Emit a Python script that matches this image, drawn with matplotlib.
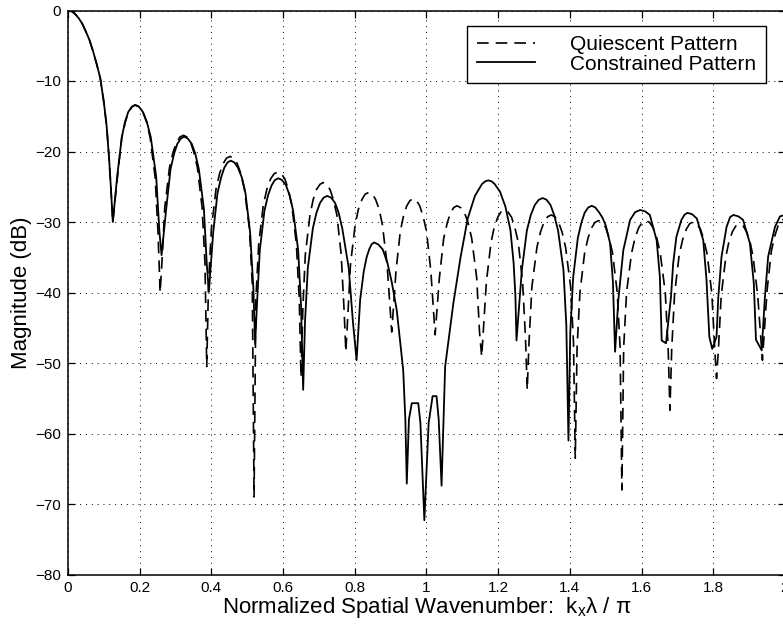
import matplotlib
matplotlib.use("Agg")
import matplotlib.pyplot as plt

plt.rcParams['font.family'] = ['Liberation Sans', 'DejaVu Sans']
plt.rcParams['mathtext.default'] = 'regular'

# Main lobe, identical for both patterns
main_x = [0.000, 0.010, 0.020, 0.030, 0.040, 0.050, 0.060, 0.070, 0.080,
          0.090, 0.100, 0.108, 0.115, 0.120]
main_db = [0.0, -0.1, -0.5, -1.1, -1.9, -3.0, -4.2, -5.8, -7.6,
           -9.6, -13.0, -16.5, -21.3, -25.5]

# Quiescent pattern (dashed)
quiescent_x = main_x + [
    0.125, 0.138, 0.150, 0.160, 0.169, 0.179, 0.188, 0.198, 0.209, 0.219, 0.229, 0.243, 0.251,
    0.257, 0.262, 0.270, 0.283, 0.293, 0.303, 0.312, 0.322, 0.332, 0.342, 0.351, 0.361, 0.374, 0.382,
    0.387, 0.392, 0.400, 0.413, 0.423, 0.433, 0.442, 0.452, 0.462, 0.472, 0.482, 0.492, 0.506, 0.514,
    0.519, 0.524, 0.532, 0.545, 0.555, 0.565, 0.575, 0.585, 0.595, 0.605, 0.614, 0.624, 0.637, 0.645,
    0.650, 0.655, 0.662, 0.675, 0.684, 0.693, 0.703, 0.712, 0.721, 0.731, 0.740, 0.750, 0.762, 0.770,
    0.775, 0.780, 0.788, 0.801, 0.810, 0.820, 0.829, 0.839, 0.849, 0.858, 0.868, 0.877, 0.890,
    0.903, 0.915, 0.927, 0.936, 0.945, 0.954, 0.963, 0.972, 0.981, 0.990, 1.000, 1.012,
    1.024, 1.036, 1.048, 1.058, 1.067, 1.076, 1.085, 1.095, 1.106, 1.116, 1.126, 1.140, 1.148,
    1.154, 1.167, 1.180, 1.189, 1.199, 1.208, 1.218, 1.227, 1.237, 1.246, 1.256, 1.268, 1.276,
    1.281, 1.286, 1.294, 1.308, 1.318, 1.328, 1.338, 1.348, 1.358, 1.368, 1.378, 1.388, 1.402, 1.410,
    1.415, 1.420, 1.428, 1.441, 1.451, 1.461, 1.470, 1.480, 1.490, 1.500, 1.509, 1.519, 1.532, 1.540,
    1.545, 1.550, 1.558, 1.572, 1.582, 1.592, 1.602, 1.612, 1.622, 1.632, 1.642, 1.652, 1.666, 1.674,
    1.679, 1.684, 1.692, 1.705, 1.715, 1.725, 1.734, 1.744, 1.754, 1.764, 1.773, 1.783, 1.796, 1.804,
    1.809, 1.814, 1.822, 1.835, 1.844, 1.854, 1.863, 1.873, 1.883, 1.892, 1.902, 1.911, 1.924,
    1.937, 1.950, 1.962, 1.972, 1.981, 1.991, 2.000,
]
quiescent_db = main_db + [
    -30.0, -23.6, -18.0, -15.8, -14.4, -13.65, -13.4, -13.65, -14.4, -15.8, -18.0, -23.6, -31.4,
    -40.0, -35.7, -27.9, -22.3, -20.1, -18.7, -17.95, -17.7, -17.95, -18.7, -20.1, -22.3, -27.9, -35.7,
    -50.5, -38.7, -30.9, -25.3, -23.1, -21.7, -20.95, -20.7, -20.95, -21.7, -23.1, -25.3, -30.9, -38.7,
    -69.0, -40.9, -33.1, -27.5, -25.3, -23.9, -23.15, -22.9, -23.15, -23.9, -25.3, -27.5, -33.1, -40.9,
    -52.0, -42.4, -34.6, -29.0, -26.8, -25.4, -24.65, -24.4, -24.65, -25.4, -26.8, -29.0, -34.6, -42.4,
    -48.4, -43.8, -36.0, -30.4, -28.2, -26.8, -26.05, -25.8, -26.05, -26.8, -28.2, -30.4, -36.0,
    -45.6, -36.9, -31.3, -29.1, -27.7, -26.95, -26.7, -26.95, -27.7, -29.1, -31.3, -36.9,
    -46.0, -37.9, -32.3, -30.1, -28.7, -27.95, -27.7, -27.95, -28.7, -30.1, -32.3, -37.9, -45.7,
    -49.1, -38.5, -32.9, -30.7, -29.3, -28.55, -28.3, -28.55, -29.3, -30.7, -32.9, -38.5, -46.3,
    -53.8, -47.0, -39.2, -33.6, -31.4, -30.0, -29.25, -29.0, -29.25, -30.0, -31.4, -33.6, -39.2, -47.0,
    -63.5, -47.8, -40.0, -34.4, -32.2, -30.8, -30.05, -29.8, -30.05, -30.8, -32.2, -34.4, -40.0, -47.8,
    -68.0, -47.8, -40.0, -34.4, -32.2, -30.8, -30.05, -29.8, -30.05, -30.8, -32.2, -34.4, -40.0, -47.8,
    -56.7, -48.0, -40.2, -34.6, -32.4, -31.0, -30.25, -30.0, -30.25, -31.0, -32.4, -34.6, -40.2, -48.0,
    -52.2, -48.3, -40.5, -34.9, -32.7, -31.3, -30.55, -30.3, -30.55, -31.3, -32.7, -34.9, -40.5,
    -49.6, -39.7, -34.1, -31.9, -30.5, -29.75, -29.5,
]

# Constrained pattern (solid)
constrained_x = main_x + [
    0.125, 0.137, 0.150, 0.159, 0.168, 0.178, 0.187, 0.198, 0.209, 0.220, 0.231, 0.246, 0.255,
    0.261, 0.274, 0.286, 0.296, 0.305, 0.315, 0.324, 0.334, 0.345, 0.355, 0.365, 0.379, 0.387,
    0.393, 0.405, 0.417, 0.427, 0.436, 0.445, 0.454, 0.464, 0.474, 0.485, 0.495, 0.508, 0.517,
    0.522, 0.527, 0.535, 0.548, 0.558, 0.568, 0.577, 0.587, 0.597, 0.608, 0.618, 0.628, 0.642, 0.650,
    0.656, 0.661, 0.669, 0.683, 0.693, 0.703, 0.713, 0.723, 0.734, 0.745, 0.755, 0.765, 0.783, 0.795,
    0.805, 0.815, 0.825, 0.833, 0.840, 0.847, 0.854, 0.866, 0.878, 0.891, 0.903, 0.917, 0.935, 0.941,
    0.945, 0.951, 0.959, 0.977, 0.983, 0.994, 1.006, 1.017, 1.028, 1.034,
    1.042, 1.052, 1.075, 1.095, 1.115, 1.135, 1.155, 1.165, 1.173, 1.182, 1.190, 1.205, 1.220,
    1.234, 1.243, 1.248,
    1.251, 1.266, 1.280, 1.291, 1.302, 1.313, 1.324, 1.335, 1.346, 1.356, 1.367, 1.382, 1.390,
    1.396, 1.401, 1.409, 1.422, 1.432, 1.441, 1.451, 1.461, 1.471, 1.481, 1.491, 1.500, 1.512, 1.520,
    1.526, 1.535, 1.549, 1.568, 1.582, 1.596, 1.610, 1.623, 1.642, 1.651, 1.656,
    1.668, 1.682, 1.688, 1.697, 1.711, 1.720, 1.728, 1.741, 1.754, 1.772, 1.781, 1.789,
    1.797, 1.809, 1.814, 1.823, 1.837, 1.847, 1.856, 1.870, 1.883, 1.902, 1.913, 1.919,
    1.935, 1.944, 1.953, 1.972, 1.986, 2.000,
]
constrained_db = main_db + [
    -30.0, -23.6, -18.0, -15.8, -14.4, -13.65, -13.4, -13.65, -14.4, -15.8, -18.0, -23.6, -31.4,
    -34.7, -28.1, -22.5, -20.3, -18.9, -18.15, -17.9, -18.15, -18.9, -20.3, -22.5, -28.1, -35.9,
    -39.9, -31.5, -25.9, -23.7, -22.3, -21.55, -21.3, -21.55, -22.3, -23.7, -25.9, -31.5, -39.3,
    -47.3, -41.8, -34.0, -28.4, -26.2, -24.8, -24.05, -23.8, -24.05, -24.8, -26.2, -28.4, -34.0, -41.8,
    -53.8, -44.3, -36.5, -30.9, -28.7, -27.3, -26.55, -26.3, -26.55, -27.3, -28.7, -30.9, -36.5, -44.3,
    -49.6, -41.0, -37.0, -35.0, -33.9, -33.15, -32.9, -33.2, -33.9, -35.8, -38.5, -42.5, -51.0, -58.0,
    -67.1, -58.0, -55.7, -55.7, -58.5, -72.3, -58.5, -54.7, -54.7, -58.0,
    -67.4, -50.5, -41.5, -35.0, -29.5, -26.3, -24.6, -24.2, -24.1, -24.25, -24.6, -25.7, -27.8,
    -31.1, -35.8, -40.5,
    -46.8, -36.8, -31.2, -29.0, -27.6, -26.85, -26.6, -26.85, -27.6, -29.0, -31.2, -36.8, -44.6,
    -61.0, -45.7, -37.9, -32.3, -30.1, -28.7, -27.95, -27.7, -27.95, -28.6, -29.4, -30.5, -33.0, -38.5,
    -48.4, -41.1, -34.0, -29.7, -28.6, -28.3, -28.5, -29.0, -32.6, -37.8, -46.8,
    -47.2, -40.6, -35.9, -32.1, -29.7, -28.95, -28.7, -28.9, -29.5, -32.6, -38.2, -46.3,
    -48.0, -46.3, -40.6, -34.9, -30.7, -29.3, -29.0, -29.2, -29.7, -33.0, -38.7, -46.7,
    -48.2, -40.6, -34.9, -30.7, -29.2, -29.0,
]

x_ticks = [0, 0.2, 0.4, 0.6, 0.8, 1.0, 1.2, 1.4, 1.6, 1.8, 2.0]
x_ticklabels = ["0", "0.2", "0.4", "0.6", "0.8", "1", "1.2", "1.4", "1.6", "1.8", "2"]
y_ticks = [-80, -70, -60, -50, -40, -30, -20, -10, 0]

fig = plt.figure(figsize=(7.83, 6.26), dpi=100)
# axes run a little past the right edge, like the cropped scan
ax = fig.add_axes([68 / 783, 51.5 / 626, 717 / 783, 564 / 626])

ax.plot(quiescent_x, quiescent_db, color="k", lw=1.2, linestyle=(0, (7, 4.2)),
        label="Quiescent Pattern")
ax.plot(constrained_x, constrained_db, color="k", lw=1.3, label="Constrained Pattern")

ax.set_xlim(0, 2)
ax.set_ylim(-80, 0)
ax.set_xticks(x_ticks)
ax.set_xticklabels(x_ticklabels)
ax.set_yticks(y_ticks)
ax.grid(True, color="k", lw=0.7, linestyle=(0, (1, 5)))
ax.tick_params(direction="in", length=5, width=0.9, top=True, right=True,
               labelsize=11, pad=5)
for s in ax.spines.values():
    s.set_linewidth(1.1)

ax.set_xlabel("Normalized Spatial Wavenumber:  $k_x$λ / π", fontsize=16)
ax.xaxis.set_label_coords(0.5, -0.036)
ax.set_ylabel("Magnitude (dB)", fontsize=16, labelpad=2)

leg = ax.legend(loc="upper right", bbox_to_anchor=(0.9735, 0.973), borderaxespad=0,
                fontsize=15, frameon=True, fancybox=False, framealpha=1,
                edgecolor="k", handlelength=2.8, handletextpad=1.7,
                labelspacing=0.02, borderpad=0.45)
leg.get_frame().set_linewidth(1.0)

fig.savefig("out.png", dpi=100)
